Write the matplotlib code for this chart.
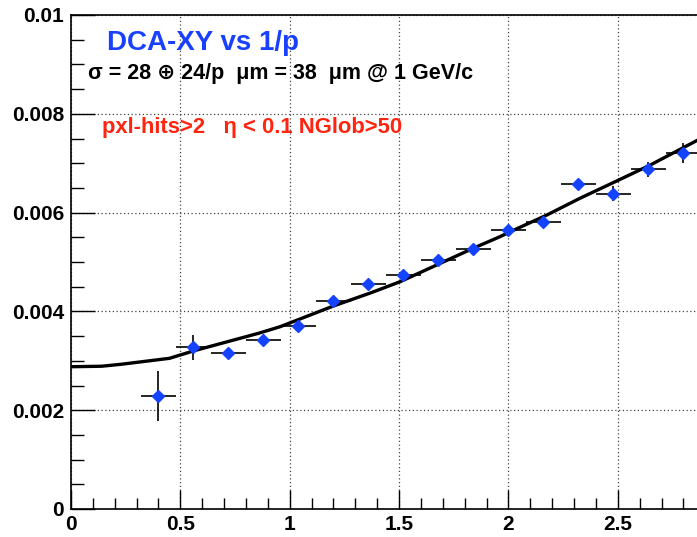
import numpy as np
import matplotlib
matplotlib.use("Agg")
from matplotlib import pyplot as plt
from matplotlib.ticker import MultipleLocator

# measured points (x = 1/p, y = DCA-XY resolution)
inv_p = [0.40, 0.56, 0.72, 0.88, 1.04, 1.20, 1.36, 1.52,
         1.68, 1.84, 2.00, 2.16, 2.32, 2.48, 2.64, 2.80]
dca = [0.00229, 0.00327, 0.00315, 0.00342, 0.00371, 0.00422, 0.00455, 0.00474,
       0.00505, 0.00526, 0.00565, 0.00580, 0.00657, 0.00638, 0.00688, 0.00720]
dca_err = [0.00050, 0.00025, 0.00008, 0.00008, 0.00010, 0.00010, 0.00010, 0.00010,
           0.00010, 0.00010, 0.00010, 0.00010, 0.00012, 0.00015, 0.00015, 0.00020]
bin_half = [0.08] * 16

# fit curve
fit_x = [0.0, 0.14, 0.23, 0.45, 0.56, 0.86, 0.956, 1.02, 1.20, 1.367, 1.504,
         1.687, 1.84, 1.96, 2.007, 2.175, 2.327, 2.495, 2.647, 2.862]
fit_y = [0.00288, 0.00289, 0.00293, 0.00305, 0.00320, 0.00356, 0.00369, 0.00380,
         0.00411, 0.00437, 0.00460, 0.00497, 0.00528, 0.00551, 0.00561, 0.00595,
         0.00629, 0.00664, 0.00696, 0.00746]

title = "DCA-XY vs 1/p"
fit_text = "σ = 28 ⊕ 24/p  μm = 38  μm @ 1 GeV/c"
cut_text = "pxl-hits>2   η < 0.1 NGlob>50"

plt.rcParams["font.family"] = ["Liberation Sans", "DejaVu Sans"]
plt.rcParams["font.weight"] = "bold"

fig = plt.figure(figsize=(6.97, 5.37), dpi=100)
ax = fig.add_axes([71 / 697, 28 / 537, 626 / 697, 494 / 537])

ax.errorbar(inv_p, dca, yerr=dca_err, xerr=bin_half, fmt="none",
            ecolor="black", elinewidth=1.2, capsize=0, zorder=3)
ax.plot(fit_x, fit_y, color="black", lw=2.4, zorder=4)
ax.plot(inv_p, dca, "D", color="#1443ff", markersize=6.2, mec="#1443ff", zorder=5)

ax.set_xlim(0, 2.862)
ax.set_ylim(0, 0.01)
ax.xaxis.set_minor_locator(MultipleLocator(0.1))
ax.yaxis.set_minor_locator(MultipleLocator(0.0005))
ax.set_xticks([0, 0.5, 1, 1.5, 2, 2.5])
ax.set_xticklabels(["0", "0.5", "1", "1.5", "2", "2.5"])
ax.set_yticks([0, 0.002, 0.004, 0.006, 0.008, 0.01])
ax.set_yticklabels(["0", "0.002", "0.004", "0.006", "0.008", "0.01"])

ax.tick_params(axis="y", which="major", direction="in", length=17, width=1, labelsize=15, pad=5)
ax.tick_params(axis="y", which="minor", direction="in", length=9, width=1)
ax.tick_params(axis="x", which="major", direction="in", length=14, width=1, labelsize=15, pad=4)
ax.tick_params(axis="x", which="minor", direction="in", length=8, width=1)
ax.spines["right"].set_visible(False)
for s in ["left", "bottom", "top"]:
    ax.spines[s].set_linewidth(1.2)

ax.grid(True, which="major", linestyle=(0, (1, 2)), color="#444444", lw=0.9)
ax.set_axisbelow(True)

fig.text(107 / 697, 1 - 43 / 537, title, color="#1a40ff", fontsize=20,
         fontweight="bold", va="center", ha="left")
fig.text(88 / 697, 1 - 73 / 537, fit_text, color="black", fontsize=15.5,
         fontweight="bold", va="center", ha="left")
fig.text(102 / 697, 1 - 127 / 537, cut_text, color="#ff2410", fontsize=15.8,
         fontweight="bold", va="center", ha="left")

fig.savefig("out.png", dpi=100)
